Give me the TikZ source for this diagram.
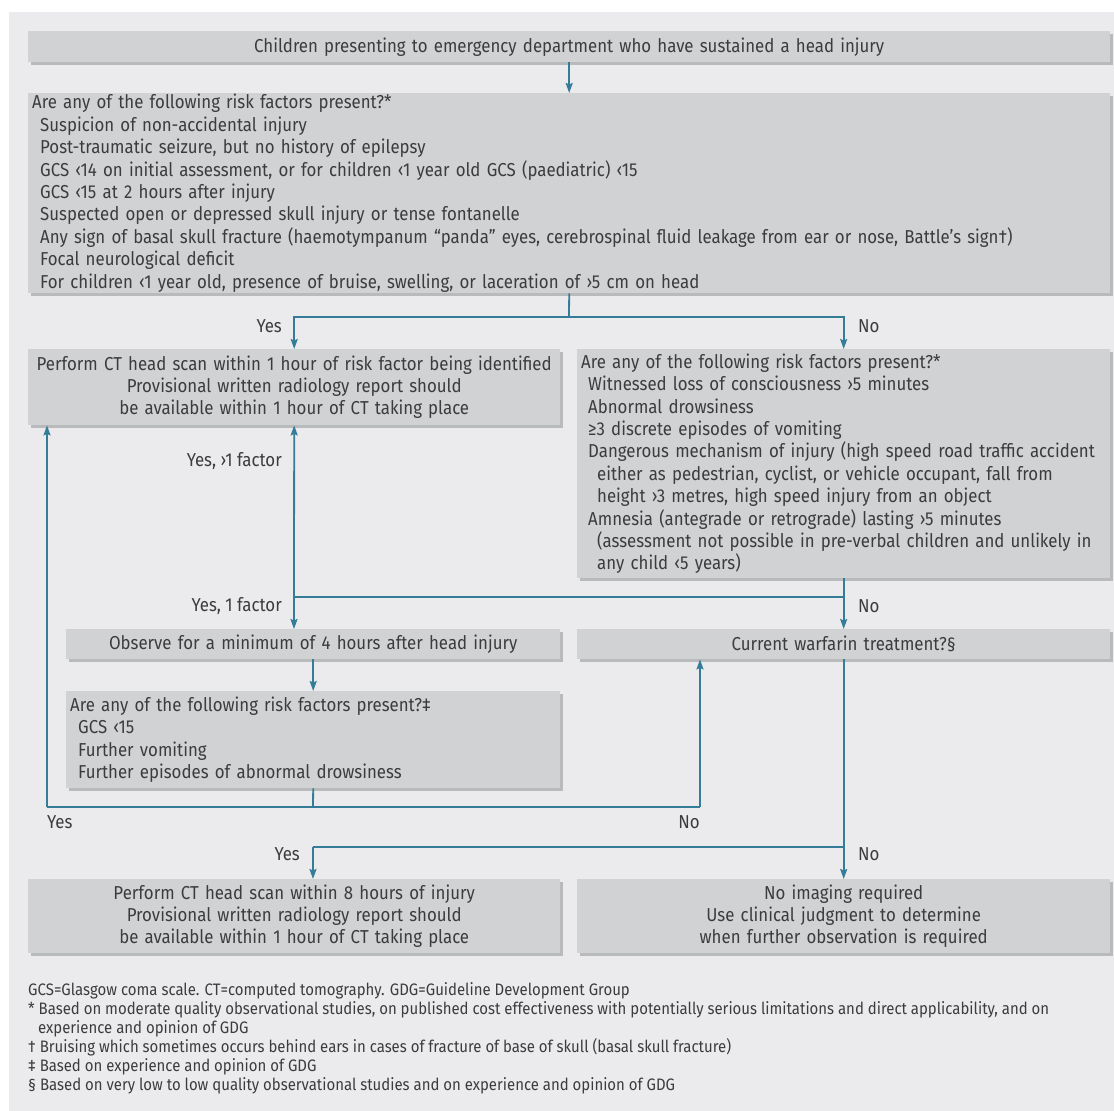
\documentclass[tikz,border=0pt]{standalone}
\usepackage{fontspec}
\setmainfont{Fira Sans}[FakeStretch=0.9]
\usetikzlibrary{arrows.meta,shadows,calc}
\definecolor{panel}{HTML}{EBEBED}
\definecolor{boxc}{HTML}{D1D2D4}
\definecolor{shadowc}{HTML}{B9BABC}
\definecolor{arrc}{HTML}{347C98}
\definecolor{txt}{HTML}{3C3C3C}
\newcommand{\mainsz}{\fontsize{18.7}{22.4}\selectfont}
\newcommand{\footsz}{\fontsize{16.6}{19}\selectfont}
\newcommand{\ia}{\hspace*{8pt}}
\newcommand{\ib}{\hspace*{17pt}}
\tikzset{
  box/.style={fill=boxc, drop shadow={shadow xshift=3pt, shadow yshift=-3pt, fill=shadowc, opacity=1},
    inner xsep=4pt, inner ysep=0pt, anchor=north west, font=\mainsz, text=txt},
  cbox/.style={box, align=center},
  lbox/.style={box, align=left},
  lineconn/.style={draw=arrc, line width=1.8pt},
  arr/.style={lineconn, -{Stealth[length=10pt,width=7pt,inset=1.5pt]}},
  lab/.style={font=\mainsz, text=txt, inner sep=0pt}
}
\begin{document}
\begin{tikzpicture}[x=1pt,y=-1pt]
\useasboundingbox (0,0) rectangle (1114,1111);
\fill[panel] (9,12) rectangle (1114,1111);

\node[cbox, minimum width=1082pt, minimum height=31pt, text width=1074pt] (b1) at (28,31)
  {Children presenting to emergency department who have sustained a head injury};

\node[lbox, minimum width=1082pt, minimum height=200pt, text width=1074pt] (b2) at (28,93)
  {Are any of the following risk factors present?*\\
   \ia Suspicion of non-accidental injury\\
   \ia Post-traumatic seizure, but no history of epilepsy\\
   \ia GCS ‹14 on initial assessment, or for children ‹1 year old GCS (paediatric) ‹15\\
   \ia GCS ‹15 at 2 hours after injury\\
   \ia Suspected open or depressed skull injury or tense fontanelle\\
   \ia Any sign of basal skull fracture (haemotympanum “panda” eyes, cerebrospinal fluid leakage from ear or nose, Battle’s sign†)\\
   \ia Focal neurological deficit\\
   \ia For children ‹1 year old, presence of bruise, swelling, or laceration of ›5 cm on head};

\node[cbox, minimum width=532pt, minimum height=76pt, text width=526pt, inner xsep=3pt] (b3) at (28,349)
  {Perform CT head scan within 1 hour of risk factor being identified\\
   Provisional written radiology report should\\
   be available within 1 hour of CT taking place};

\node[lbox, minimum width=533pt, minimum height=229pt, text width=527pt, inner xsep=3pt] (b4) at (577,349)
  {\hspace*{1pt}Are any of the following risk factors present?*\\
   \ia Witnessed loss of consciousness ›5 minutes\\
   \ia Abnormal drowsiness\\
   \ia ≥3 discrete episodes of vomiting\\
   \ia Dangerous mechanism of injury (high speed road traffic accident\\
   \ib either as pedestrian, cyclist, or vehicle occupant, fall from\\
   \ib height ›3 metres, high speed injury from an object\\
   \ia Amnesia (antegrade or retrograde) lasting ›5 minutes\\
   \ib (assessment not possible in pre-verbal children and unlikely in\\
   \ib any child ‹5 years)};

\node[cbox, minimum width=494pt, minimum height=30pt, text width=486pt] (obs) at (66,629)
  {Observe for a minimum of 4 hours after head injury};

\node[cbox, minimum width=533pt, minimum height=30pt, text width=525pt] (war) at (577,629)
  {Current warfarin treatment?§};

\node[lbox, minimum width=494pt, minimum height=97pt, text width=486pt] (b7) at (66,691)
  {Are any of the following risk factors present?‡\\
   \ia GCS ‹15\\
   \ia Further vomiting\\
   \ia Further episodes of abnormal drowsiness};

\node[cbox, minimum width=532pt, minimum height=74pt, text width=524pt] (b5) at (28,879)
  {Perform CT head scan within 8 hours of injury\\
   Provisional written radiology report should\\
   be available within 1 hour of CT taking place};

\node[cbox, minimum width=533pt, minimum height=74pt, text width=525pt] (b6) at (577,879)
  {No imaging required\\
   Use clinical judgment to determine\\
   when further observation is required};

% footnotes
\node[anchor=north west, inner sep=0pt, align=left, font=\footsz, text=txt] (fn) at (28,982)
  {GCS=Glasgow coma scale. CT=computed tomography. GDG=Guideline Development Group\\
   * Based on moderate quality observational studies, on published cost effectiveness with potentially serious limitations and direct applicability, and on\\
   \hspace*{10pt}experience and opinion of GDG\\
   † Bruising which sometimes occurs behind ears in cases of fracture of base of skull (basal skull fracture)\\
   ‡ Based on experience and opinion of GDG\\
   § Based on very low to low quality observational studies and on experience and opinion of GDG};

% connectors
\coordinate (s1) at (569,317);
\coordinate (s2) at (843.5,597);
\coordinate (s3) at (294,597);
\coordinate (s4) at (313,807);
\coordinate (s5) at (47,807);
\coordinate (s6) at (700,807);
\coordinate (s7) at (843.5,847);
\coordinate (s8) at (313,847);

\draw[arr] (b1.south) -- (b2.north);
\draw[lineconn] (b2.south) -- (s1);
\draw[arr] (s1) -| (b3.north);
\draw[arr] (s1) -| (b4.north);
\draw[arr] (b4.south) -- (war.north);
\draw[lineconn] (s2) -- (s3);
\draw[arr] (s3) -- (b3.south);
\draw[arr] (s3) -- (s3 |- obs.north);
\draw[arr] (obs.south) -- (b7.north);
\draw[lineconn] (b7.south) -- (s4);
\draw[lineconn] (s5) -- (s6);
\draw[arr] (s5) -- (s5 |- b3.south);
\draw[arr] (s6) -- (s6 |- war.south);
\draw[arr] (war.south) -- (b6.north);
\draw[lineconn] (s7) -- (s8);
\draw[arr] (s8) -- (s8 |- b5.north);

% labels
\node[lab, anchor=east] (l1) at (282,326) {Yes};
\node[lab, anchor=west] (l2) at (858,326) {No};
\node[lab, anchor=east] (l3) at (282,461) {Yes, ›1 factor};
\node[lab, anchor=east] (l4) at (282,606) {Yes, 1 factor};
\node[lab, anchor=west] (l5) at (858,606) {No};
\node[lab, anchor=west] (l6) at (47,822) {Yes};
\node[lab, anchor=east] (l7) at (700,822) {No};
\node[lab, anchor=east] (l8) at (300,854) {Yes};
\node[lab, anchor=west] (l9) at (858,854) {No};
\end{tikzpicture}
\end{document}
